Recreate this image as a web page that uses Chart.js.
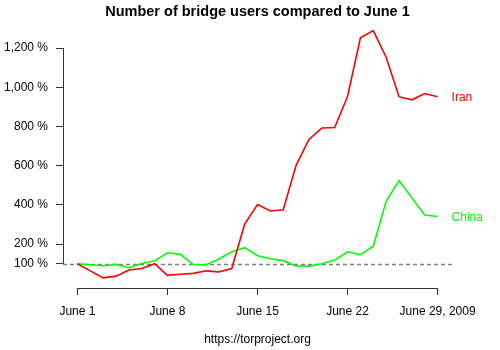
<!DOCTYPE html>
<html>
<head>
<meta charset="utf-8">
<script src="https://cdn.jsdelivr.net/npm/chart.js@4/dist/chart.umd.min.js"></script>
<style>
html,body{margin:0;padding:0;background:#fff;}
#wrap{width:500px;height:350px;}
</style>
</head>
<body>
<div id="wrap"><canvas id="c" width="500" height="350"></canvas></div>
<script>
const days = [1,2,3,4,5,6,7,8,9,10,11,12,13,14,15,16,17,18,19,20,21,22,23,24,25,26,27,28,29];
const iran = [100,64,28,37,68,76,100,41,47,51,64,59,76,302,402,369,375,602,734,792,795,953,1252,1289,1153,952,936,968,952];
const china = [100,95,90,97,80,101,115,156,148,96,95,124,161,182,141,126,116,89,88,100,119,161,146,190,419,524,436,349,341];
const xTickValues = [1,8,15,22,29];
const xTickLabels = ["June 1","June 8","June 15","June 22","June 29, 2009"];
const yTickValues = [100,200,400,600,800,1000,1200];
const baseline = 100;
const titleText = "Number of bridge users compared to June 1";
const sourceText = "https://torproject.org";
const seriesNames = ["Iran","China"];
const seriesColors = ["#ff0000","#00ff00"];

const FONT = "'Liberation Sans', Arial, Helvetica, sans-serif";
const fmt = v => v.toLocaleString('en-US') + " %";

const overlay = {
  id: 'overlay',
  beforeDatasetsDraw(chart) {
    const {ctx, chartArea, scales} = chart;
    const y = Math.round(scales.y.getPixelForValue(baseline)) + 0.5;
    ctx.save();
    ctx.strokeStyle = '#808080';
    ctx.lineWidth = 1.3;
    ctx.setLineDash([4,3]);
    ctx.beginPath();
    ctx.moveTo(chartArea.left, y);
    ctx.lineTo(chartArea.right, y);
    ctx.stroke();
    ctx.restore();
  },
  afterDraw(chart) {
    const {ctx, chartArea, scales} = chart;
    const xs = scales.x, ys = scales.y;
    ctx.save();
    ctx.strokeStyle = '#333';
    ctx.lineWidth = 1;
    const ax = Math.round(chartArea.left) + 0.5;
    ctx.beginPath();
    ctx.moveTo(ax, ys.getPixelForValue(yTickValues[yTickValues.length-1]));
    ctx.lineTo(ax, ys.getPixelForValue(yTickValues[0]));
    ctx.stroke();
    const ay = Math.round(chartArea.bottom) + 0.5;
    ctx.beginPath();
    ctx.moveTo(xs.getPixelForValue(xTickValues[0]), ay);
    ctx.lineTo(xs.getPixelForValue(xTickValues[xTickValues.length-1]), ay);
    ctx.stroke();
    ctx.font = "12px " + FONT;
    ctx.textAlign = 'left';
    ctx.textBaseline = 'middle';
    const last = days[days.length-1];
    [iran, china].forEach((d, i) => {
      ctx.fillStyle = seriesColors[i];
      ctx.fillText(seriesNames[i], xs.getPixelForValue(last) + 14, ys.getPixelForValue(d[d.length-1]) + 1);
    });
    ctx.fillStyle = '#000';
    ctx.textAlign = 'center';
    ctx.fillText(sourceText, (chartArea.left + chartArea.right) / 2, 340);
    ctx.restore();
  }
};

new Chart(document.getElementById('c'), {
  type: 'line',
  data: {
    labels: days,
    datasets: [
      {label: seriesNames[0], data: days.map((d,i)=>({x:d, y:iran[i]})), borderColor: seriesColors[0], borderWidth: 1.6, pointRadius: 0, tension: 0, fill: false},
      {label: seriesNames[1], data: days.map((d,i)=>({x:d, y:china[i]})), borderColor: seriesColors[1], borderWidth: 1.6, pointRadius: 0, tension: 0, fill: false}
    ]
  },
  plugins: [overlay],
  options: {
    responsive: false,
    animation: false,
    devicePixelRatio: 1,
    layout: {padding: {left: 0, right: 48, top: 0, bottom: 0}},
    plugins: {
      legend: {display: false},
      tooltip: {enabled: false},
      title: {
        display: true, text: titleText, fullSize: false, color: '#000',
        font: {family: FONT, size: 14.5, weight: 'bold', lineHeight: 1.15},
        padding: {top: 4, bottom: 0}
      }
    },
    scales: {
      x: {
        type: 'linear', min: -0.12, max: 30.12,
        afterBuildTicks: s => { s.ticks = xTickValues.map(v => ({value: v})); },
        afterFit: s => { s.height = 62; },
        border: {display: false},
        grid: {display: true, drawOnChartArea: false, drawTicks: true, tickLength: 7, color: '#333', lineWidth: 1},
        ticks: {
          autoSkip: false, maxRotation: 0, padding: 9, color: '#000',
          font: {family: FONT, size: 12},
          callback: v => { const i = xTickValues.indexOf(v); return i >= 0 ? xTickLabels[i] : ''; }
        }
      },
      y: {
        type: 'linear', min: -23.5, max: 1339.5,
        afterBuildTicks: s => { s.ticks = yTickValues.map(v => ({value: v})); },
        afterFit: s => { s.width = 63; },
        border: {display: false},
        grid: {display: true, drawOnChartArea: false, drawTicks: true, tickLength: 7, color: '#333', lineWidth: 1},
        ticks: {
          autoSkip: false, padding: 8, color: '#000',
          font: {family: FONT, size: 12},
          callback: v => fmt(v)
        }
      }
    }
  }
});
</script>
</body>
</html>
